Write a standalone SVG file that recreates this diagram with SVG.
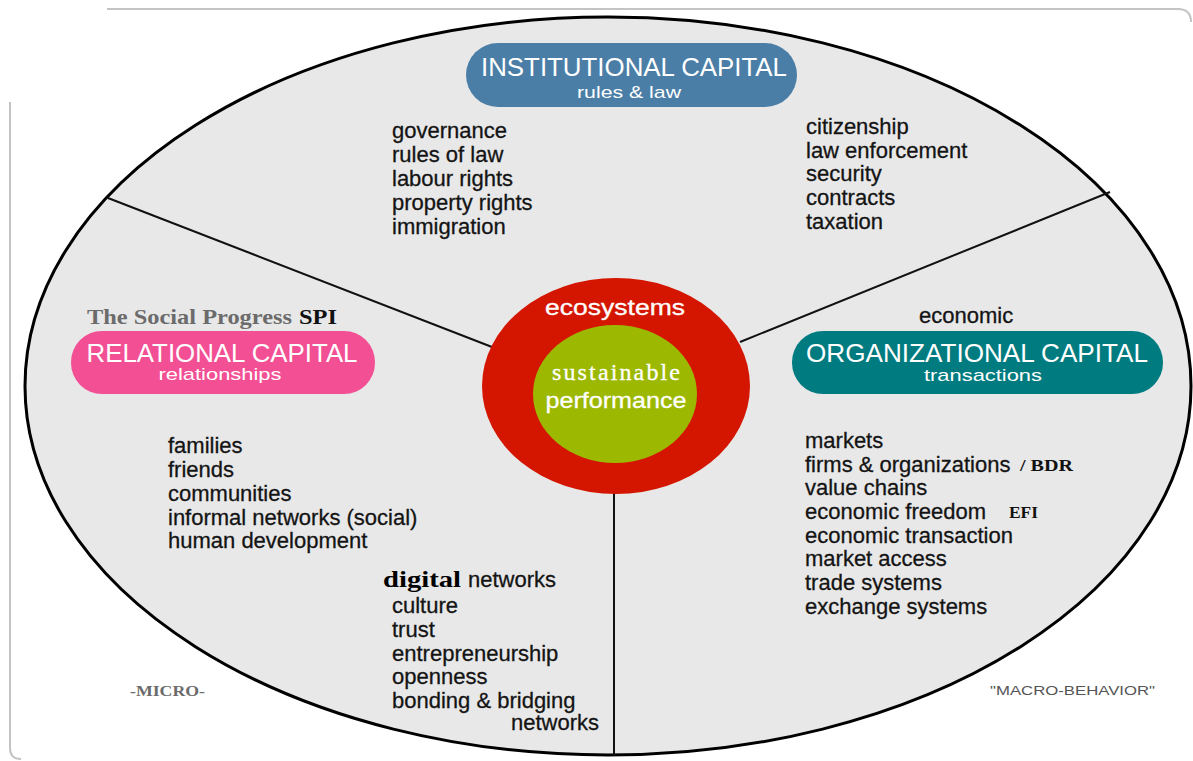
<svg xmlns="http://www.w3.org/2000/svg" width="1193" height="761" viewBox="0 0 1193 761">
  <style>
    .item { font-family: "Liberation Sans", Arial, sans-serif; font-size: 22px; fill: #141414; stroke: #141414; stroke-width: 0.3px; }
    .pill-title { font-family: "Liberation Sans", Arial, sans-serif; font-size: 25px; fill: #fff; text-anchor: middle; }
    .pill-sub { font-family: "Liberation Sans", Arial, sans-serif; font-size: 17px; fill: #fff; text-anchor: middle; }
    .serif-bold { font-family: "Liberation Serif", "Times New Roman", serif; font-weight: bold; }
    .divider { stroke: #111; stroke-width: 2; fill: none; }
    .frame { stroke: #c4c4c4; stroke-width: 2; fill: none; }
  </style>

  <rect width="1193" height="761" fill="#ffffff"/>

  <!-- page frame -->
  <g id="frame">
    <path class="frame" d="M107 9 H1178 Q1191 9 1191 22"/>
    <path class="frame" d="M10 102 V748 Q10 759 21 759"/>
  </g>

  <!-- outer field -->
  <g id="field">
    <ellipse cx="608" cy="386" rx="583" ry="369" fill="#e8e8e8" stroke="#000" stroke-width="3"/>
  </g>

  <!-- sector dividers -->
  <g id="connectors">
    <line class="divider" x1="108" y1="198" x2="492" y2="347"/>
    <line class="divider" x1="1110" y1="192" x2="740" y2="342"/>
    <line class="divider" x1="614" y1="490" x2="614" y2="755"/>
  </g>

  <!-- centre -->
  <g id="ecosystems">
    <ellipse cx="616" cy="386" rx="134" ry="108" fill="#d41500"/>
    <text x="615" y="315" font-family="'Liberation Sans', Arial, sans-serif" font-size="22" fill="#fff" stroke="#fff" stroke-width="0.3" text-anchor="middle" textLength="140" lengthAdjust="spacingAndGlyphs">ecosystems</text>
  </g>
  <g id="sustainable-performance">
    <ellipse cx="615" cy="394" rx="82" ry="69" fill="#9cb800"/>
    <text x="616" y="380" font-family="'Liberation Serif', 'Times New Roman', serif" font-size="24" fill="#fff" stroke="#fff" stroke-width="0.3" text-anchor="middle" textLength="128" lengthAdjust="spacing">sustainable</text>
    <text x="616" y="408" font-family="'Liberation Sans', Arial, sans-serif" font-size="22" fill="#fff" stroke="#fff" stroke-width="0.3" text-anchor="middle" textLength="141" lengthAdjust="spacingAndGlyphs">performance</text>
  </g>

  <!-- institutional capital -->
  <g id="institutional-capital">
    <rect x="466" y="43" width="331" height="64" rx="32" fill="#4a7ea6"/>
    <text class="pill-title" x="634" y="76" textLength="306" lengthAdjust="spacingAndGlyphs">INSTITUTIONAL CAPITAL</text>
    <text class="pill-sub" x="629" y="98" textLength="104" lengthAdjust="spacingAndGlyphs">rules &amp; law</text>
  </g>
  <g id="institutional-list-left">
    <text class="item" x="392" y="138">governance</text>
    <text class="item" x="392" y="162">rules of law</text>
    <text class="item" x="392" y="186">labour rights</text>
    <text class="item" x="392" y="210">property rights</text>
    <text class="item" x="392" y="234">immigration</text>
  </g>
  <g id="institutional-list-right">
    <text class="item" x="806" y="134">citizenship</text>
    <text class="item" x="806" y="158">law enforcement</text>
    <text class="item" x="806" y="181">security</text>
    <text class="item" x="806" y="205">contracts</text>
    <text class="item" x="806" y="229">taxation</text>
  </g>

  <!-- relational capital -->
  <g id="relational-capital">
    <text x="87" y="324" class="serif-bold" font-size="21" fill="#6b6b6b" textLength="205" lengthAdjust="spacingAndGlyphs">The Social Progress</text>
    <text x="299" y="324" class="serif-bold" font-size="21" fill="#111" textLength="38" lengthAdjust="spacingAndGlyphs">SPI</text>
    <rect x="71" y="331" width="304" height="63" rx="31" fill="#f24f94"/>
    <text class="pill-title" x="222" y="362" textLength="271" lengthAdjust="spacingAndGlyphs">RELATIONAL CAPITAL</text>
    <text class="pill-sub" x="220" y="380" textLength="123" lengthAdjust="spacingAndGlyphs">relationships</text>
  </g>
  <g id="relational-list">
    <text class="item" x="168" y="453">families</text>
    <text class="item" x="168" y="477">friends</text>
    <text class="item" x="168" y="501">communities</text>
    <text class="item" x="168" y="525">informal networks (social)</text>
    <text class="item" x="168" y="548">human development</text>
  </g>
  <g id="social-list">
    <text x="383" y="587" class="serif-bold" font-size="24" fill="#000" textLength="78" lengthAdjust="spacingAndGlyphs">digital</text>
    <text class="item" x="468" y="587">networks</text>
    <text class="item" x="392" y="613">culture</text>
    <text class="item" x="392" y="637">trust</text>
    <text class="item" x="392" y="661">entrepreneurship</text>
    <text class="item" x="392" y="684">openness</text>
    <text class="item" x="392" y="708">bonding &amp; bridging</text>
    <text class="item" x="599" y="730" text-anchor="end">networks</text>
  </g>

  <!-- organizational capital -->
  <g id="organizational-capital">
    <text class="item" x="919" y="323">economic</text>
    <rect x="792" y="331" width="371" height="63" rx="31" fill="#007b80"/>
    <text class="pill-title" x="977" y="362" textLength="342" lengthAdjust="spacingAndGlyphs">ORGANIZATIONAL CAPITAL</text>
    <text class="pill-sub" x="983" y="381" textLength="118" lengthAdjust="spacingAndGlyphs">transactions</text>
  </g>
  <g id="organizational-list">
    <text class="item" x="805" y="448">markets</text>
    <text class="item" x="805" y="472">firms &amp; organizations</text>
    <text x="1020" y="471" class="serif-bold" font-size="16" fill="#111" textLength="53" lengthAdjust="spacingAndGlyphs">/ BDR</text>
    <text class="item" x="805" y="495">value chains</text>
    <text class="item" x="805" y="519">economic freedom</text>
    <text x="1009" y="518" class="serif-bold" font-size="16" fill="#111" textLength="29" lengthAdjust="spacingAndGlyphs">EFI</text>
    <text class="item" x="805" y="543">economic transaction</text>
    <text class="item" x="805" y="566">market access</text>
    <text class="item" x="805" y="590">trade systems</text>
    <text class="item" x="805" y="614">exchange systems</text>
  </g>

  <!-- scale labels -->
  <g id="scale-labels">
    <text x="130" y="696" class="serif-bold" font-size="15" fill="#6b6b6b" textLength="75" lengthAdjust="spacingAndGlyphs">-MICRO-</text>
    <text x="990" y="695" font-family="'Liberation Sans', Arial, sans-serif" font-size="13" fill="#555" textLength="165" lengthAdjust="spacingAndGlyphs">"MACRO-BEHAVIOR"</text>
  </g>
</svg>
